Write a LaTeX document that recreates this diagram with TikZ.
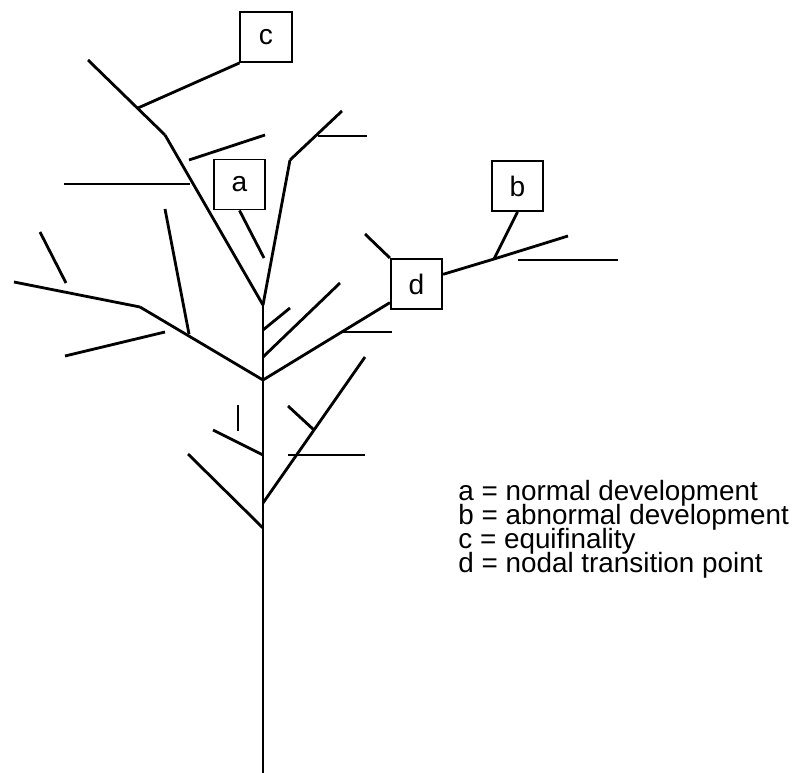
\documentclass[tikz,border=0pt]{standalone}
\usepackage{fontspec}
\setmainfont{Liberation Sans}
\usepackage{xcolor}

\begin{document}
\begin{tikzpicture}
    [x=0.025cm,y=-0.025cm,line width=2pt,
     boite/.style={draw,line width=1.4pt,minimum width=1.28cm,minimum height=1.25cm,inner sep=0pt,font=\fontsize{20pt}{23pt}\selectfont},
     legende/.style={anchor=base west,inner sep=0pt,font=\fontsize{19.8pt}{23pt}\selectfont}]
    \useasboundingbox (0,0) rectangle (795,773);

    % tronc
    \coordinate (t0) at (263,773);
    \coordinate (t1) at (263,528);
    \coordinate (t2) at (263,503);
    \coordinate (t3) at (263,455);
    \coordinate (t4) at (263,380);
    \coordinate (t5) at (263,357);
    \coordinate (t6) at (263,330);
    \coordinate (t7) at (263,305);

    % les boites
    \node[boite] (c) at (266,37) {c};
    \node[boite] (a) at (239.5,184.5) {a};
    \node[boite] (d) at (416.5,284) {d};
    \node[boite] (b) at (517.5,186) {b};

    % bas
    \coordinate (l1) at (188,454);
    \coordinate (l2) at (213,430);
    \coordinate (l3) at (238,405);
    \coordinate (l4) at (238,431);
    \coordinate (r1) at (365,357);
    \coordinate (r2) at (288,406);
    \coordinate (r3) at (314,430);
    \coordinate (r4) at (288,455);
    \coordinate (r5) at (365,455);

    % milieu
    \coordinate (m1) at (140,307);
    \coordinate (m2) at (14,282);
    \coordinate (m3) at (40,232);
    \coordinate (m4) at (66,283);
    \coordinate (m5) at (165,209);
    \coordinate (m6) at (189,334);
    \coordinate (m7) at (65,356);
    \coordinate (m8) at (165,332);
    \coordinate (n1) at (340,283);
    \coordinate (n2) at (290,308);
    \coordinate (n3) at (342,332);
    \coordinate (n4) at (392,332);

    % haut
    \coordinate (u1) at (165,135);
    \coordinate (u2) at (88,60);
    \coordinate (u3) at (138,108);
    \coordinate (u4) at (64,184);
    \coordinate (u5) at (190,184);
    \coordinate (u6) at (189,160);
    \coordinate (u7) at (265,135);
    \coordinate (u8) at (264,258);
    \coordinate (v1) at (290,160);
    \coordinate (v2) at (342,111);
    \coordinate (v3) at (318,136);
    \coordinate (v4) at (367,136);

    % droite
    \coordinate (w1) at (365,234);
    \coordinate (w2) at (494,259);
    \coordinate (w3) at (568,236);
    \coordinate (w4) at (518,260);
    \coordinate (w5) at (618,260);

    \foreach \from/\to in {t0/t7,
                           t1/l1, t3/l2, l3/l4,
                           t2/r1, r2/r3, r4/r5,
                           t4/m1, m1/m2, m3/m4, m5/m6, m7/m8,
                           t5/n1, t6/n2, n3/n4,
                           t7/u1, u1/u2, u3/c.south west, u4/u5, u6/u7,
                           a.south/u8,
                           t7/v1, v1/v2, v3/v4,
                           t4/d.215, d.north west/w1,
                           d.20/w2, w2/w3, b.south/w2, w4/w5}
    \draw (\from) -- (\to);

    % legende
    \foreach \y/\txt [count=\i] in {500/a = normal development,
                                    524/b = abnormal development,
                                    548/c = equifinality,
                                    572/d = nodal transition point}
    \node[legende] (leg-\i) at (457,\y) {\txt};
\end{tikzpicture}
\end{document}
